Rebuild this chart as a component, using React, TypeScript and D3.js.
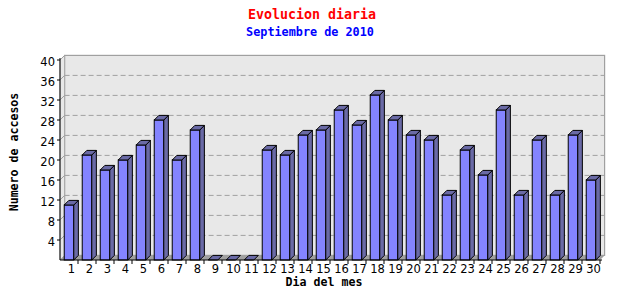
import React from "react";
import * as d3 from "d3";

const days: string[] = Array.from({ length: 30 }, (_, i) => String(i + 1));
const accesses: number[] = [11, 21, 18, 20, 23, 28, 20, 26, 0, 0, 0, 22, 21, 25, 26, 30, 27, 33, 28, 25, 24, 13, 22, 17, 30, 13, 24, 13, 25, 16];
const yTicks: number[] = [4, 8, 12, 16, 20, 24, 28, 32, 36, 40];
const title = "Evolucion diaria";
const subtitle = "Septiembre de 2010";
const xTitle = "Dia del mes";
const yTitle = "Numero de accesos";

const W = 640, H = 300;
const X0 = 60, X1 = 600, Y0 = 260, Y1 = 60;
const D = 4.6;

export default function App() {
  const x = d3.scaleBand<string>().domain(days).range([X0, X1]).paddingInner(0.47).paddingOuter(0.235);
  const xb = d3.scaleLinear().domain([0, days.length]).range([X0, X1]);
  const y = d3.scaleLinear().domain([0, 40]).range([Y0, Y1]);
  const bw = x.bandwidth();
  const mono = "'DejaVu Sans Mono', monospace";
  const front = "#8484ff";
  const dark = "#6a6aa6";

  return (
    <div style={{ position: "fixed", left: 0, top: 0 }}>
      <svg width={W} height={H} style={{ display: "block", background: "#fff" }}>
        {/* back wall */}
        <rect x={X0 + D} y={Y1 - D} width={X1 - X0} height={Y0 - Y1} fill="#e8e8e8" stroke="#a0a0a0" strokeWidth={1.2} />
        {/* left side wall */}
        <polygon points={`${X0},${Y1} ${X0 + D},${Y1 - D} ${X0 + D},${Y0 - D} ${X0},${Y0}`} fill="#e8e8e8" stroke="#a0a0a0" strokeWidth={0.8} />
        {/* floor */}
        <polygon points={`${X0},${Y0} ${X0 + D},${Y0 - D} ${X1 + D},${Y0 - D} ${X1},${Y0}`} fill="#a0a0a0" />
        {/* gridlines */}
        {yTicks.filter(v => v < 40).map(v => (
          <line key={"g" + v} x1={X0 + D} x2={X1 + D} y1={y(v) - D} y2={y(v) - D} stroke="#a0a0a0" strokeWidth={1} strokeDasharray="5,3" />
        ))}
        {/* 3d ticks on left wall */}
        {yTicks.map(v => (
          <line key={"d" + v} x1={X0} x2={X0 + D} y1={y(v)} y2={y(v) - D} stroke="#a0a0a0" strokeWidth={1} />
        ))}
        {/* bars */}
        {accesses.map((v, i) => {
          const bx = x(days[i])!;
          const by = y(v);
          return (
            <g key={"b" + i} stroke="#000" strokeWidth={1} strokeLinejoin="miter">
              {v > 0 && <rect x={bx} y={by} width={bw} height={Y0 - by} fill={front} />}
              {v > 0 && (
                <polygon points={`${bx + bw},${by} ${bx + bw + D},${by - D} ${bx + bw + D},${Y0 - D} ${bx + bw},${Y0}`} fill={dark} />
              )}
              <polygon points={`${bx},${by} ${bx + D},${by - D} ${bx + bw + D},${by - D} ${bx + bw},${by}`} fill={dark} />
            </g>
          );
        })}
        {/* axes */}
        <line x1={X0} x2={X0} y1={Y1 - 2} y2={Y0} stroke="#000" strokeWidth={1} />
        <line x1={X0} x2={X1 + 2} y1={Y0} y2={Y0} stroke="#000" strokeWidth={1} />
        {yTicks.map(v => (
          <line key={"yt" + v} x1={X0 - 3} x2={X0} y1={y(v)} y2={y(v)} stroke="#000" strokeWidth={1} />
        ))}
        {d3.range(1, days.length + 1).map(k => (
          <line key={"xt" + k} x1={xb(k)} x2={xb(k)} y1={Y0} y2={Y0 + 4} stroke="#000" strokeWidth={1} />
        ))}
        {/* tick labels */}
        {yTicks.map(v => (
          <text key={"yl" + v} x={X0 - 5} y={y(v) + 2.5} textAnchor="end" dominantBaseline="middle" fontFamily="'DejaVu Sans', sans-serif" fontSize={11.5} fill="#000">{v}</text>
        ))}
        {days.map(dd => (
          <text key={"xl" + dd} x={x(dd)! + bw / 2 + 2.5} y={273} textAnchor="middle" fontFamily="'DejaVu Sans', sans-serif" fontSize={11.5} fill="#000">{dd}</text>
        ))}
        {/* titles */}
        <text x={312} y={19} textAnchor="middle" fontFamily={mono} fontWeight="bold" fontSize={13.3} fill="#ff0000">{title}</text>
        <text x={310} y={36} textAnchor="middle" fontFamily={mono} fontWeight="bold" fontSize={11.8} fill="#0000ff">{subtitle}</text>
        <text x={324} y={286} textAnchor="middle" fontFamily={mono} fontWeight="bold" fontSize={11.6} fill="#000">{xTitle}</text>
        <text transform={`translate(18,152) rotate(-90)`} textAnchor="middle" fontFamily={mono} fontWeight="bold" fontSize={11.6} fill="#000">{yTitle}</text>
      </svg>
    </div>
  );
}
